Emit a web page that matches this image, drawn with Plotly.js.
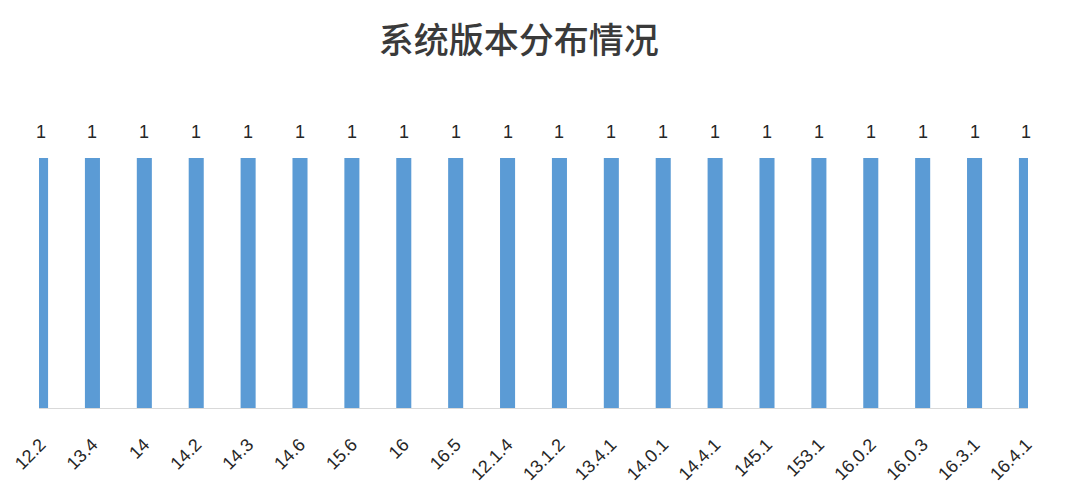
<!DOCTYPE html>
<html>
<head>
<meta charset="utf-8">
<script src="https://cdn.plot.ly/plotly-3.0.1.min.js"></script>
<style>html,body{margin:0;padding:0;background:#fff}#chart{width:1070px;height:496px}</style>
</head>
<body>
<div id="chart"></div>
<script>
const chartTitle = "系统版本分布情况";
const versions = ["12.2","13.4","14","14.2","14.3","14.6","15.6","16","16.5","12.1.4","13.1.2","13.4.1","14.0.1","14.4.1","145.1","153.1","16.0.2","16.0.3","16.3.1","16.4.1"];
const counts = [1,1,1,1,1,1,1,1,1,1,1,1,1,1,1,1,1,1,1,1];

const trace = {
  type: "bar",
  x: versions,
  y: counts,
  width: 0.29,
  marker: {color: "#5B9BD5", line: {width: 0}},
  hoverinfo: "x+y"
};

const annotations = versions.map((v, i) => ({
  x: i, y: counts[i], xref: "x", yref: "y",
  text: String(counts[i]), showarrow: false,
  yshift: 26, font: {family: "Liberation Sans, Arial, sans-serif", size: 18, color: "#262626"}
}));

const layout = {
  width: 1070, height: 496,
  paper_bgcolor: "#ffffff", plot_bgcolor: "#ffffff",
  margin: {l: 39, r: 42, t: 158, b: 88},
  showlegend: false,
  title: {
    text: chartTitle,
    font: {family: "Noto Sans CJK SC, sans-serif", size: 35, color: "#3a3a3a", weight: 500},
    x: 0.485, xanchor: "center", xref: "paper",
    y: 1 - 41/496, yanchor: "middle", yref: "container"
  },
  xaxis: {
    type: "category",
    range: [-0.03, 19.03],
    tickangle: -45,
    showgrid: false, zeroline: false,
    showline: true, linecolor: "#d9d9d9", linewidth: 1,
    ticks: "", ticklabelstandoff: 18,
    tickfont: {family: "Liberation Sans, Arial, sans-serif", size: 18, color: "#262626"},
    fixedrange: true
  },
  yaxis: {
    range: [0, 1],
    visible: false,
    showgrid: false, zeroline: false,
    fixedrange: true
  },
  annotations: annotations
};

Plotly.newPlot("chart", [trace], layout, {displayModeBar: false, staticPlot: true});
</script>
</body>
</html>
